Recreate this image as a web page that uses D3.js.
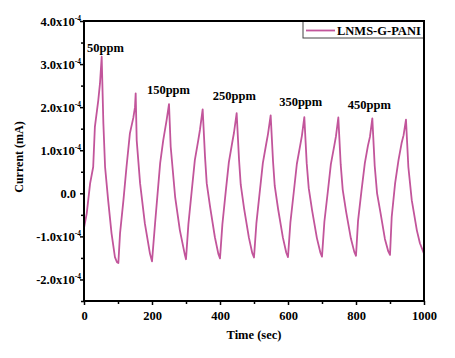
<!DOCTYPE html>
<html lang="en">
<head>
<meta charset="UTF-8">
<title>LNMS-G-PANI current response</title>
<script src="https://d3js.org/d3.v7.min.js"></script>
<style>
    body { margin: 0; background: #fff; }
    svg text { font-family: "Liberation Serif", "Times New Roman", serif; font-weight: bold; fill: #000; }
</style>
</head>
<body>
<svg width="455" height="358"></svg>
<script>
    // time (sec) and current (in units of 1e-4 mA)
    const timeSec = [
        0, 8, 18, 27, 32, 42, 47, 52, 57, 62, 71, 81, 91, 97,
        101, 106, 116, 125, 135, 145, 150, 152, 155, 165, 179, 194,
        200, 209, 224, 233, 243, 250, 255, 268, 282, 297,
        300, 307, 317, 326, 336, 341, 349, 356, 361, 371, 385, 395,
        400, 407, 417, 426, 436, 441, 449, 456, 461, 471, 485, 495,
        500, 507, 517, 526, 536, 541, 549, 556, 561, 571, 585, 595,
        600, 607, 617, 626, 636, 641, 648, 655, 661, 671, 685, 695,
        700, 707, 717, 726, 736, 741, 748, 755, 761, 771, 785, 795,
        800, 806, 816, 826, 835, 841, 848, 855, 862, 872, 885, 895,
        900, 905, 915, 925, 934, 940, 947, 954, 964, 979, 988, 1000
    ];
    const currentE4 = [
        -0.80, -0.47, 0.23, 0.61, 1.54, 2.16, 2.55, 3.17, 1.62, 0.61, -0.16, -0.93, -1.48, -1.60,
        -1.62, -0.93, -0.16, 0.61, 1.39, 1.75, 2.00, 2.32, 1.23, 0.23, -0.70, -1.40,
        -1.58, -0.70, 0.70, 1.23, 1.70, 2.07, 1.08, -0.08, -0.86, -1.44,
        -1.53, -0.72, 0.07, 0.77, 1.23, 1.47, 1.95, 0.84, 0.23, -0.32, -1.02, -1.40,
        -1.51, -0.72, 0.05, 0.72, 1.18, 1.40, 1.86, 0.78, 0.20, -0.36, -1.03, -1.39,
        -1.49, -0.70, 0.04, 0.70, 1.15, 1.37, 1.81, 0.74, 0.17, -0.37, -1.03, -1.38,
        -1.48, -0.68, 0.03, 0.68, 1.12, 1.34, 1.77, 0.70, 0.12, -0.40, -1.04, -1.37,
        -1.47, -0.66, 0.03, 0.67, 1.10, 1.32, 1.76, 0.67, 0.08, -0.43, -1.05, -1.36,
        -1.45, -0.64, 0.05, 0.70, 1.10, 1.31, 1.74, 0.64, 0.00, -0.45, -1.06, -1.35,
        -1.43, -0.55, 0.23, 0.77, 1.16, 1.35, 1.71, 0.61, -0.16, -0.86, -1.16, -1.40
    ];

    // concentration labels, anchored in data units (sec, 1e-4 mA)
    const ppmText = ["50ppm", "150ppm", "250ppm", "350ppm", "450ppm"];
    const ppmTime = [9, 185, 379, 574, 776];
    const ppmLevel = [3.28, 2.30, 2.16, 2.02, 1.95];

    const xMajor = [0, 200, 400, 600, 800, 1000];
    const xMinor = [100, 300, 500, 700, 900];
    const yMajor = [-2, -1, 0, 1, 2, 3, 4];
    const yMinor = [-2.5, -1.5, -0.5, 0.5, 1.5, 2.5, 3.5];

    const seriesName = "LNMS-G-PANI";
    const lineColor = "#c2559b";

    const svg = d3.select("svg");
    const mLeft = 84, mRight = 424, mTop = 21, mBottom = 301;

    const x = d3.scaleLinear().domain([0, 1000]).range([mLeft, mRight]);
    const y = d3.scaleLinear().domain([-2.5, 4]).range([mBottom, mTop]);

    // minor ticks first
    svg.append("g").attr("transform", `translate(0,${mBottom})`)
        .call(d3.axisBottom(x).tickValues(xMinor).tickSize(3).tickFormat(""))
        .call(g => g.select(".domain").remove());
    svg.append("g").attr("transform", `translate(${mLeft},0)`)
        .call(d3.axisLeft(y).tickValues(yMinor).tickSize(3).tickFormat(""))
        .call(g => g.select(".domain").remove());

    // major ticks + labels
    const xAxis = svg.append("g").attr("transform", `translate(0,${mBottom})`)
        .call(d3.axisBottom(x).tickValues(xMajor).tickSize(4).tickPadding(6).tickFormat(d3.format("d")));
    xAxis.select(".domain").remove();
    xAxis.selectAll("text").attr("font-size", 12.5);

    const yAxis = svg.append("g").attr("transform", `translate(${mLeft},0)`)
        .call(d3.axisLeft(y).tickValues(yMajor).tickSize(4).tickFormat(""));
    yAxis.select(".domain").remove();
    yAxis.selectAll(".tick").each(function (d) {
        const t = d3.select(this).append("text")
            .attr("font-size", 12.5)
            .attr("text-anchor", "end")
            .attr("dy", "0.35em");
        if (d === 0) {
            t.attr("x", -8).text("0.0");
        } else {
            t.attr("x", -3);
            t.append("tspan").text(d.toFixed(1) + "x10");
            t.append("tspan").attr("font-size", 7.5).attr("dy", -5).text("-4");
        }
    });
    svg.selectAll(".tick line").attr("stroke", "#000").attr("stroke-width", 1.5);

    // series
    const pts = timeSec.map((t, i) => [t, currentE4[i]]);
    const line = d3.line().x(d => x(d[0])).y(d => y(d[1]));
    svg.append("path")
        .datum(pts)
        .attr("d", line)
        .attr("fill", "none")
        .attr("stroke", lineColor)
        .attr("stroke-width", 1.8)
        .attr("stroke-linejoin", "round");

    // ppm annotations
    svg.append("g").selectAll("text")
        .data(ppmText)
        .enter()
        .append("text")
        .attr("x", (d, i) => x(ppmTime[i]))
        .attr("y", (d, i) => y(ppmLevel[i]))
        .attr("font-size", 12.5)
        .text(d => d);

    // legend
    const lg = svg.append("g");
    lg.append("rect")
        .attr("x", 303).attr("y", mTop)
        .attr("width", mRight - 303).attr("height", 17)
        .attr("fill", "#fff").attr("stroke", "#444").attr("stroke-width", 1);
    lg.append("line")
        .attr("x1", 306).attr("x2", 335).attr("y1", 30.5).attr("y2", 30.5)
        .attr("stroke", lineColor).attr("stroke-width", 1.8);
    lg.append("text")
        .attr("x", 337).attr("y", 35)
        .attr("font-size", 12.5)
        .text(seriesName);

    // frame
    svg.append("rect")
        .attr("x", mLeft).attr("y", mTop)
        .attr("width", mRight - mLeft).attr("height", mBottom - mTop)
        .attr("fill", "none").attr("stroke", "#000").attr("stroke-width", 2);

    // axis titles
    svg.append("text")
        .attr("x", (mLeft + mRight) / 2).attr("y", 339)
        .attr("text-anchor", "middle")
        .attr("font-size", 12.5)
        .text("Time (sec)");
    svg.append("text")
        .attr("transform", `translate(23,${(mTop + mBottom) / 2 - 4}) rotate(-90)`)
        .attr("text-anchor", "middle")
        .attr("font-size", 12)
        .text("Current (mA)");
</script>
</body>
</html>
